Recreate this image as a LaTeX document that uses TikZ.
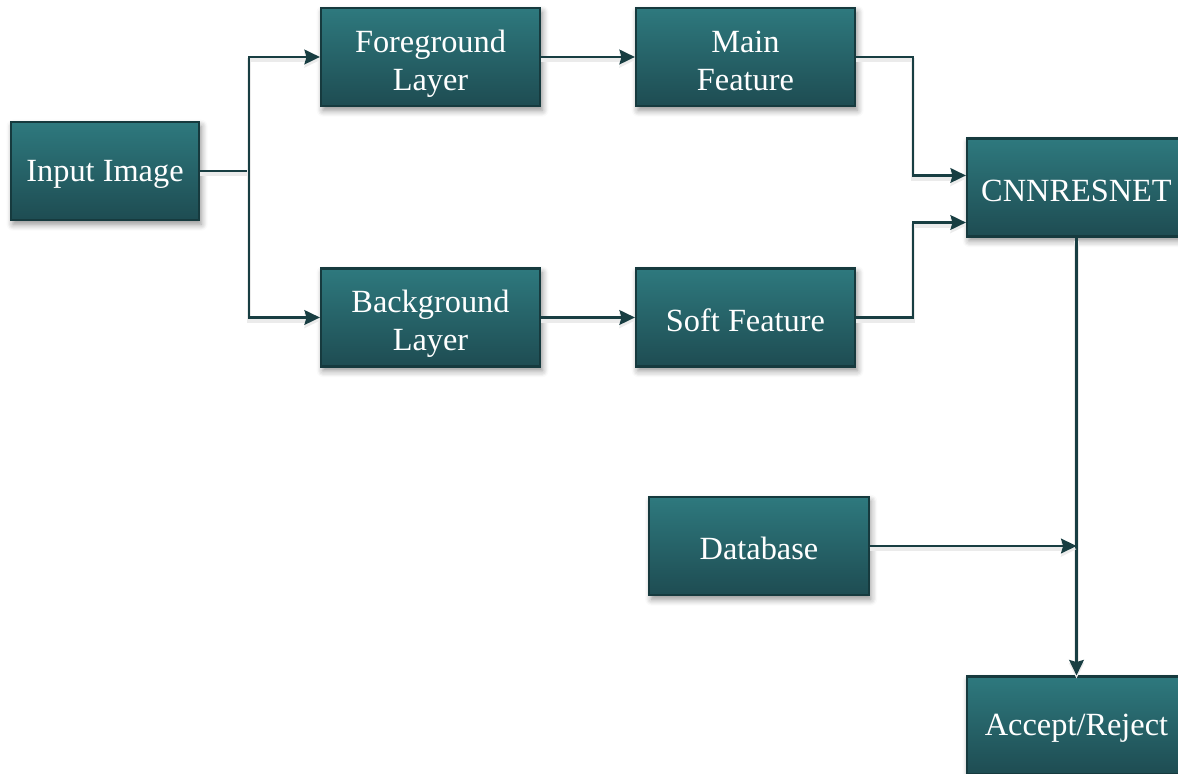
\documentclass[tikz,border=0pt]{standalone}
\usepackage{fontspec}
\setmainfont{Liberation Serif}
\usetikzlibrary{arrows.meta,shadows.blur,positioning}
\definecolor{tealtop}{RGB}{46,121,126}
\definecolor{tealbot}{RGB}{30,76,82}
\definecolor{tealedge}{RGB}{22,58,62}
\definecolor{linecol}{RGB}{24,62,66}
\newcommand{\upstrut}{\rule{0pt}{10pt}}
\newcommand{\downstrut}{\rule[-2pt]{0pt}{2pt}}
\tikzset{
  box/.style={draw=tealedge, line width=0.6pt, top color=tealtop, bottom color=tealbot,
    text=white, align=center, minimum width=2.19cm, minimum height=0.98cm, inner sep=1pt,
    font=\fontsize{9.2}{10.8}\selectfont,
    execute at begin node={\rule{0pt}{7.9pt}},
    blur shadow={shadow xshift=0.6pt, shadow yshift=-1.2pt, shadow blur steps=6, shadow opacity=45}},
  conn/.style={draw=linecol, line width=0.6pt,
    preaction={draw=black!8, line width=1.2pt, transform canvas={yshift=-0.9pt}}},
  arr/.style={conn, -{Stealth[length=4.4pt,width=4.2pt,inset=0.6pt]}}
}
\begin{document}
\begin{tikzpicture}[x=0.01cm,y=-0.01cm]
\useasboundingbox (0,0) rectangle (1178,774);
\node[box, minimum width=1.88cm] (inp) at (105,171) {Input Image};
\node[box] (fg) at (430.5,57) {\upstrut Foreground\\Layer};
\node[box] (mf) at (745.5,57) {\upstrut Main\\Feature\downstrut};
\node[box] (bg) at (430.5,317.5) {\upstrut Background\\Layer};
\node[box] (sf) at (745.5,317.5) {Soft Feature};
\node[box] (cnn) at (1076.5,187.5) {CNNRESNET};
\node[box] (db) at (759,546) {Database};
\node[box] (ar) at (1076.5,725.5) {Accept/Reject};
\coordinate (split) at (249,171);
\coordinate (join) at (1076.5,546);
\draw[conn] (inp.east) -- (split);
\draw[arr] (split) |- (fg.west);
\draw[arr] (split) |- (bg.west);
\draw[arr] (fg) -- (mf);
\draw[arr] (bg) -- (sf);
\draw[arr] (mf.east) -- (913,57) |- ([yshift=0.12cm]cnn.west);
\draw[arr] (sf.east) -- (913,317.5) |- ([yshift=-0.35cm]cnn.west);
\draw[arr] (cnn.south) -- (ar.north);
\draw[arr] (db.east) -- (join);
\end{tikzpicture}
\end{document}
